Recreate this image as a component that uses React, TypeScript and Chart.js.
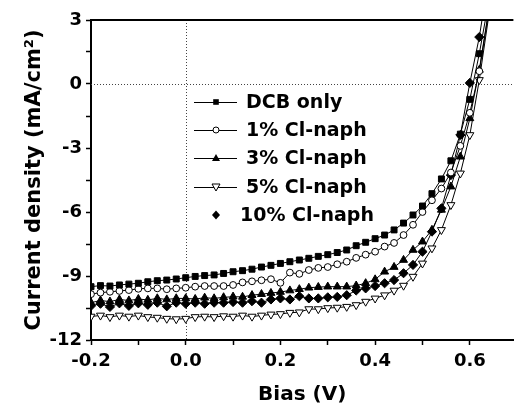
import React, { useEffect, useRef } from "react";
import { Chart, registerables } from "chart.js";

Chart.register(...registerables);

const volts = [
  -0.2, -0.18, -0.16, -0.14, -0.12, -0.1, -0.08, -0.06, -0.04, -0.02,
  0.0, 0.02, 0.04, 0.06, 0.08, 0.1, 0.12, 0.14, 0.16, 0.18,
  0.2, 0.22, 0.24, 0.26, 0.28, 0.3, 0.32, 0.34, 0.36, 0.38,
  0.4, 0.42, 0.44, 0.46, 0.48, 0.5, 0.52, 0.54, 0.56, 0.58,
  0.6, 0.62, 0.64,
];

const dcbOnly = [
  -9.5, -9.45, -9.47, -9.42, -9.38, -9.34, -9.27, -9.22, -9.19, -9.14,
  -9.08, -9.02, -8.98, -8.95, -8.88, -8.8, -8.75, -8.68, -8.58, -8.5,
  -8.41, -8.33, -8.25, -8.17, -8.08, -8.0, -7.9, -7.78, -7.58, -7.42,
  -7.25, -7.08, -6.84, -6.52, -6.14, -5.72, -5.14, -4.45, -3.6, -2.35,
  -0.72, 1.42, 3.9,
];

const clNaph1 = [
  -9.85, -9.78, -9.74, -9.7, -9.66, -9.6, -9.58, -9.58, -9.62, -9.58,
  -9.55, -9.5, -9.47, -9.47, -9.47, -9.42, -9.3, -9.25, -9.2, -9.15,
  -9.32, -8.84, -8.9, -8.72, -8.62, -8.58, -8.45, -8.33, -8.15, -8.0,
  -7.86, -7.62, -7.45, -7.08, -6.6, -6.0, -5.45, -4.9, -4.15, -2.9,
  -1.35, 0.6, 3.4,
];

const clNaph3 = [
  -10.25, -10.15, -10.2, -10.1, -10.15, -10.08, -10.12, -10.05, -10.1, -10.05,
  -10.05, -10.08, -10.02, -10.05, -10.0, -9.97, -9.98, -9.9, -9.85, -9.8,
  -9.75, -9.68, -9.62, -9.55, -9.52, -9.5, -9.5, -9.5, -9.45, -9.34,
  -9.16, -8.8, -8.58, -8.25, -7.78, -7.39, -6.84, -5.9, -4.81, -3.41,
  -1.61, 0.66, 3.5,
];

const clNaph5 = [
  -10.9, -10.85, -10.92, -10.85, -10.9, -10.85, -10.92, -10.95, -11.0, -11.02,
  -11.0, -10.92, -10.9, -10.92, -10.88, -10.9, -10.85, -10.9, -10.85, -10.8,
  -10.78, -10.72, -10.7, -10.55, -10.55, -10.5, -10.48, -10.44, -10.36, -10.2,
  -10.05, -9.9, -9.68, -9.45, -9.03, -8.41, -7.7, -6.84, -5.67, -4.19,
  -2.39, 0.19, 3.2,
];

const clNaph10 = [
  -10.4, -10.3, -10.45, -10.28, -10.4, -10.28, -10.35, -10.25, -10.42, -10.25,
  -10.3, -10.25, -10.3, -10.25, -10.25, -10.22, -10.25, -10.18, -10.25, -10.1,
  -10.05, -10.1, -9.95, -10.05, -10.05, -10.0, -9.98, -9.9, -9.68, -9.58,
  -9.47, -9.34, -9.19, -8.87, -8.48, -7.86, -6.92, -5.83, -4.27, -2.39,
  0.05, 2.2, 5.0,
];

const seriesNames = ["DCB only", "1% Cl-naph", "3% Cl-naph", "5% Cl-naph", "10% Cl-naph"];
const seriesValues = [dcbOnly, clNaph1, clNaph3, clNaph5, clNaph10];
const markerKinds = ["square", "circle", "tri", "tridown", "diamond"];

const FONT = "'DejaVu Sans', sans-serif";

function drawMarker(ctx: CanvasRenderingContext2D, kind: string, x: number, y: number) {
  ctx.save();
  ctx.lineWidth = 1;
  ctx.strokeStyle = "#000";
  ctx.fillStyle = "#000";
  ctx.beginPath();
  if (kind === "square") {
    ctx.rect(x - 2.8, y - 2.8, 5.6, 5.6);
    ctx.fill();
  } else if (kind === "circle") {
    ctx.arc(x, y, 3, 0, Math.PI * 2);
    ctx.fillStyle = "#fff";
    ctx.fill();
    ctx.stroke();
  } else if (kind === "tri") {
    ctx.moveTo(x, y - 4);
    ctx.lineTo(x + 4, y + 3);
    ctx.lineTo(x - 4, y + 3);
    ctx.closePath();
    ctx.fill();
  } else if (kind === "tridown") {
    ctx.moveTo(x, y + 4);
    ctx.lineTo(x + 4, y - 3);
    ctx.lineTo(x - 4, y - 3);
    ctx.closePath();
    ctx.fillStyle = "#fff";
    ctx.fill();
    ctx.stroke();
  } else {
    ctx.moveTo(x, y - 4.5);
    ctx.lineTo(x + 4, y);
    ctx.lineTo(x, y + 4.5);
    ctx.lineTo(x - 4, y);
    ctx.closePath();
    ctx.fill();
  }
  ctx.restore();
}

const decorPlugin = {
  id: "decor",
  beforeDatasetsDraw(chart: any) {
    const { ctx, chartArea, scales } = chart;
    const x0 = scales.x.getPixelForValue(0);
    const y0 = scales.y.getPixelForValue(0);
    ctx.save();
    ctx.strokeStyle = "#444";
    ctx.lineWidth = 1;
    ctx.setLineDash([1, 2]);
    ctx.beginPath();
    ctx.moveTo(Math.round(x0) + 0.5, chartArea.top);
    ctx.lineTo(Math.round(x0) + 0.5, chartArea.bottom);
    ctx.moveTo(chartArea.left, Math.round(y0) + 0.5);
    ctx.lineTo(chartArea.right, Math.round(y0) + 0.5);
    ctx.stroke();
    ctx.restore();
  },
  afterDraw(chart: any) {
    const { ctx, chartArea } = chart;
    ctx.save();
    ctx.strokeStyle = "#000";
    ctx.lineWidth = 2;
    ctx.beginPath();
    ctx.moveTo(chartArea.left, chartArea.top);
    ctx.lineTo(chartArea.right, chartArea.top);
    ctx.stroke();

    // legend
    const rowY = [102, 130, 158, 187, 215];
    ctx.font = "bold 19px " + FONT;
    ctx.textBaseline = "middle";
    ctx.fillStyle = "#000";
    seriesNames.forEach((name, i) => {
      const y = rowY[i];
      if (markerKinds[i] !== "diamond") {
        ctx.beginPath();
        ctx.lineWidth = 1;
        ctx.strokeStyle = "#000";
        ctx.moveTo(194, y + 0.5);
        ctx.lineTo(237, y + 0.5);
        ctx.stroke();
      }
      drawMarker(ctx, markerKinds[i], 216, y);
      ctx.fillStyle = "#000";
      ctx.fillText(name, markerKinds[i] === "diamond" ? 240 : 246, y + 1);
    });
    ctx.restore();
  },
};

export default function App() {
  const ref = useRef<HTMLCanvasElement | null>(null);

  useEffect(() => {
    if (!ref.current) return;
    const styles: any[] = [
      { pointStyle: "rect", radius: 4.2, bg: "#000", rotation: 0 },
      { pointStyle: "circle", radius: 3.4, bg: "#fff", rotation: 0 },
      { pointStyle: "triangle", radius: 4.6, bg: "#000", rotation: 0 },
      { pointStyle: "triangle", radius: 4.6, bg: "#fff", rotation: 180 },
      { pointStyle: "rectRot", radius: 4.6, bg: "#000", rotation: 0 },
    ];
    const datasets = seriesValues.map((vals, i) => ({
      label: seriesNames[i],
      data: volts.map((v, k) => ({ x: v, y: vals[k] })),
      borderColor: "#000",
      borderWidth: 1,
      pointStyle: styles[i].pointStyle,
      pointRadius: styles[i].radius,
      pointRotation: styles[i].rotation,
      pointBackgroundColor: styles[i].bg,
      pointBorderColor: "#000",
      pointBorderWidth: 1,
      tension: 0,
    }));

    const chart = new Chart(ref.current, {
      type: "line",
      data: { datasets },
      options: {
        animation: false,
        responsive: false,
        maintainAspectRatio: false,
        layout: { padding: { top: 20, right: 0, left: 0, bottom: 0 } },
        plugins: { legend: { display: false }, tooltip: { enabled: false } },
        scales: {
          x: {
            type: "linear",
            min: -0.2,
            max: 0.692,
            afterFit: (s: any) => {
              s.height = 71;
            },
            border: { color: "#000", width: 2 },
            grid: { drawOnChartArea: false, drawTicks: true, tickLength: 5, color: "#000", tickWidth: 1.5 },
            ticks: {
              stepSize: 0.1,
              includeBounds: false,
              autoSkip: false,
              maxRotation: 0,
              padding: 6,
              color: "#000",
              font: { family: FONT, weight: "bold", size: 18 },
              callback: (v: any) => {
                const n = Math.round(Number(v) * 10);
                if (n % 2 !== 0) return "";
                if (n === 0) return "0.0";
                return (n / 10).toFixed(1);
              },
            },
            title: {
              display: true,
              text: "Bias (V)",
              color: "#000",
              font: { family: FONT, weight: "bold", size: 20 },
              padding: { top: 0, bottom: 4 },
            },
          },
          y: {
            type: "linear",
            min: -12,
            max: 3,
            afterFit: (s: any) => {
              s.width = 91;
            },
            border: { color: "#000", width: 2 },
            grid: { drawOnChartArea: false, drawTicks: true, tickLength: 5, color: "#000", tickWidth: 1.5 },
            ticks: {
              stepSize: 1.5,
              autoSkip: false,
              padding: 4,
              color: "#000",
              font: { family: FONT, weight: "bold", size: 18 },
              callback: (v: any) => {
                const n = Math.round(Number(v) / 1.5);
                if (n % 2 !== 0) return "";
                return String(Math.round(Number(v)));
              },
            },
            title: {
              display: true,
              text: "Current density (mA/cm²)",
              color: "#000",
              font: { family: FONT, weight: "bold", size: 21 },
              padding: { top: 22, bottom: 0 },
            },
          },
        },
      },
      plugins: [decorPlugin],
    });
    return () => chart.destroy();
  }, []);

  return (
    <div style={{ position: "absolute", left: 0, top: 0, width: 519, height: 411, background: "#fff" }}>
      <canvas ref={ref} width={519} height={411} style={{ width: 519, height: 411, display: "block" }} />
    </div>
  );
}
